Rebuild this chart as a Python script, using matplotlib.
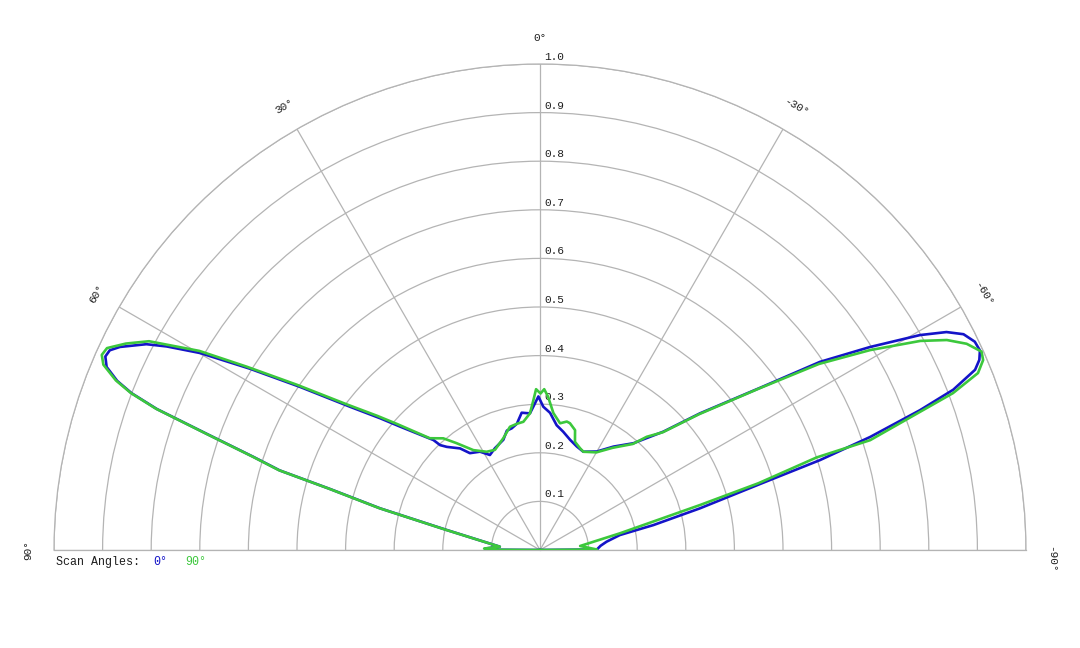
import matplotlib.pyplot as plt
import numpy as np
from matplotlib.transforms import offset_copy

# scan angle 0 deg (blue), theta in degrees measured from broadside, + to the left
theta_0 = [-90, -89.5, -86, -82.9, -79.4, -77.6, -75.4, -73.3, -72.2, -71.1, -69.8,
           -68.8, -67.5, -66.6, -65.6, -64.4, -63.0, -61.8, -60.5, -58.4, -56.1,
           -53.6, -49.5, -46.2, -41.2, -35.4, -30.0, -23.8, -19.6, -15.3, -11.1,
           -7.6, -4.2, -1.3, 0.6, 2.7, 4.2, 5.6, 7.6, 10.4, 13.1, 15.5, 18.4,
           23.9, 27.8, 31.4, 35.9, 38.2, 42.1, 43.6, 44.1, 48.6, 50.5, 53.0,
           55.8, 58.0, 59.9, 61.4, 62.4, 64.2, 65.1, 66.0, 67.1, 68.2, 69.0,
           69.8, 70.8, 72.0, 73.0, 73.8, 75.4, 77.9, 85.3, 88.5, 89.7, 90]
r_0 = [0.0, 0.117, 0.125, 0.138, 0.167, 0.239, 0.340, 0.473, 0.605, 0.718, 0.833,
       0.912, 0.969, 0.985, 0.994, 0.992, 0.978, 0.949, 0.898, 0.797, 0.694,
       0.562, 0.433, 0.352, 0.292, 0.261, 0.234, 0.221, 0.226, 0.235, 0.248,
       0.259, 0.283, 0.295, 0.316, 0.295, 0.282, 0.283, 0.285, 0.264, 0.257, 0.255, 0.239,
       0.229, 0.221, 0.237, 0.246, 0.266, 0.286, 0.298, 0.315, 0.384, 0.426, 0.490,
       0.597, 0.704, 0.808, 0.875, 0.914, 0.960, 0.976, 0.979, 0.968, 0.937, 0.900,
       0.840, 0.725, 0.620, 0.560, 0.450, 0.340, 0.196, 0.083, 0.113, 0.090, 0.0]

# scan angle 90 deg (green)
theta_90 = [-90, -89.5, -84.3, -78.2, -74.3, -73.0, -71.5, -71.6, -69.2, -68.0, -66.8,
            -65.8, -64.2, -62.7, -61.2, -58.8, -56.3, -53.6, -49.5, -46.2, -43.3,
            -41.2, -35.4, -30.0, -23.8, -21.5, -17.9, -16.3, -13.3, -11.8, -9.0,
            -5.6, -3.0, -1.5, -0.2, 1.4, 2.5, 4.2, 7.4, 10.4, 13.7, 18.2, 24.2,
            28.5, 33.7, 38.0, 40.9, 43.7, 44.6, 48.6, 50.5, 53.0, 55.8, 58.0,
            59.7, 61.9, 63.5, 65.0, 66.0, 67.0, 68.2, 69.0, 69.8, 70.8, 72.0,
            73.0, 73.8, 75.4, 77.9, 85.3, 88.5, 89.7, 90]
r_90 = [0.0, 0.117, 0.083, 0.168, 0.342, 0.470, 0.600, 0.716, 0.909, 0.972, 0.992,
        0.996, 0.975, 0.942, 0.893, 0.794, 0.690, 0.560, 0.430, 0.350, 0.320,
        0.290, 0.258, 0.232, 0.221, 0.225, 0.234, 0.257, 0.268, 0.270, 0.264,
        0.283, 0.316, 0.331, 0.322, 0.331, 0.309, 0.282, 0.266, 0.264, 0.261, 0.242, 0.226,
        0.230, 0.247, 0.279, 0.304, 0.318, 0.323, 0.392, 0.434, 0.498, 0.605, 0.712,
        0.812, 0.912, 0.952, 0.983, 0.987, 0.976, 0.940, 0.902, 0.842, 0.727, 0.622,
        0.562, 0.452, 0.342, 0.198, 0.083, 0.115, 0.090, 0.0]

r_ticks = [0.1, 0.2, 0.3, 0.4, 0.5, 0.6, 0.7, 0.8, 0.9, 1.0]
theta_ticks = [-90, -60, -30, 0, 30, 60, 90]

blue = '#1414c8'
green = '#3cc83c'
grid_c = '#b4b4b4'
mono = 'Liberation Mono'

W, H = 1080, 648
fig = plt.figure(figsize=(W / 100, H / 100), dpi=100)
# the half disc sits in the middle half of a square polar axes
R = 486
cx, cy = 540, H - 550
ax = fig.add_axes([(cx - R) / W, (cy - R / 2) / H, 2 * R / W, 2 * R / H], projection='polar')
ax.set_theta_zero_location('N')
ax.set_thetamin(-90)
ax.set_thetamax(90)
ax.set_rlim(0, 1)
ax.set_rticks(r_ticks)
ax.set_yticklabels([])
ax.set_thetagrids(theta_ticks, labels=[''] * len(theta_ticks))
ax.grid(color=grid_c, lw=0.9)
for sp in ax.spines.values():
    sp.set_color(grid_c)
    sp.set_linewidth(0.9)

ax.plot(np.deg2rad(theta_0), r_0, color=blue, lw=1.9, zorder=3)
ax.plot(np.deg2rad(theta_90), r_90, color=green, lw=1.9, zorder=4)

# radial labels next to the 0 deg spoke
tr = offset_copy(ax.transData, fig=fig, x=4, y=2, units='dots')
for r in r_ticks:
    ax.text(0, r, f'{r:.1f}', transform=tr, ha='left', va='bottom',
            fontsize=8, family=mono, color='#1e1e1e')

# angle labels, rotated tangent to the arc
for t in theta_ticks:
    pos = t
    if t == -90:
        pos = -91
    ax.text(np.deg2rad(pos), 1.053, f'{t}°', rotation=t, rotation_mode='anchor',
            ha='center', va='center', fontsize=8, family=mono, color='#1e1e1e')

y_leg = 1 - 562 / H
fig.text(56 / W, y_leg, 'Scan Angles:', fontsize=8.4, family=mono, color='#1e1e1e', va='center')
fig.text(153 / W, y_leg, '0°', fontsize=8.4, family=mono, color=blue, va='center')
fig.text(185 / W, y_leg, '90°', fontsize=8.4, family=mono, color=green, va='center')

fig.savefig('out.png', dpi=100, facecolor='white')
